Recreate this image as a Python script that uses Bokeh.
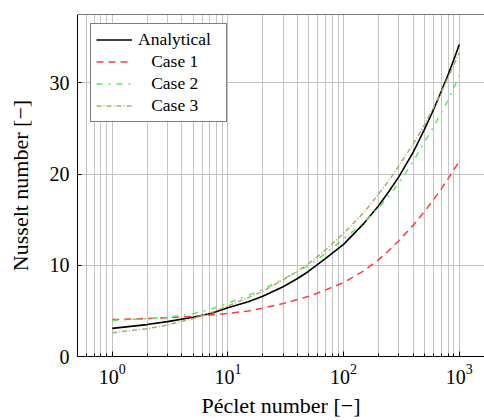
from bokeh.plotting import figure
from bokeh.models import Range1d, Span, Legend, LegendItem, LogTicker, FixedTicker
from bokeh.embed import file_html
from bokeh.resources import INLINE

# ---- data ----
peclet = [1, 2, 3, 5, 7, 10, 15, 20, 30, 40, 50, 70, 100, 150, 200, 250, 300, 400, 500, 600, 700, 800, 900, 1000]
nu_analytical = [3.08, 3.50, 3.82, 4.30, 4.70, 5.35, 6.00, 6.60, 7.65, 8.55, 9.35, 10.75, 12.3, 14.6, 16.5, 18.2, 19.7, 22.4, 24.9, 27.1, 29.1, 30.9, 32.6, 34.2]
nu_case1 = [4.05, 4.15, 4.25, 4.40, 4.55, 4.72, 5.00, 5.30, 5.80, 6.25, 6.60, 7.30, 8.10, 9.40, 10.6, 11.7, 12.7, 14.4, 15.9, 17.2, 18.4, 19.5, 20.5, 21.4]
nu_case2 = [3.95, 4.15, 4.30, 4.70, 5.15, 5.85, 6.70, 7.35, 8.50, 9.30, 10.0, 11.3, 12.9, 14.7, 16.3, 17.7, 19.0, 21.4, 23.5, 25.2, 26.8, 28.1, 29.5, 30.8]
nu_case3 = [2.60, 3.05, 3.45, 4.15, 4.75, 5.55, 6.45, 7.15, 8.40, 9.35, 10.2, 11.7, 13.5, 15.8, 17.8, 19.4, 20.9, 23.3, 25.4, 27.3, 29.0, 30.6, 32.0, 33.3]
y_ticks = [0, 10, 20, 30]
series_labels = ["Analytical", "\u2002\u2005Case 1", "\u2002\u2005Case 2", "\u2002\u2005Case 3"]

FONT = "Liberation Serif"

p = figure(width=484, height=420, x_axis_type="log",
           x_range=Range1d(10 ** -0.3, 10 ** 3.218), y_range=Range1d(0, 37.5),
           output_backend="svg", toolbar_location=None,
           min_border_left=77, min_border_right=0, min_border_top=14, min_border_bottom=61)

p.background_fill_color = "white"
p.border_fill_color = "white"
p.outline_line_color = None
p.add_layout(Span(location=37.5, dimension="width", line_color="black", line_width=1))

# x axis
p.xaxis.ticker = LogTicker(mantissas=[1], num_minor_ticks=10)
p.xaxis.axis_label = "Péclet number [\u2212]"
p.xaxis.major_tick_in = 5
p.xaxis.major_tick_out = 0
p.xaxis.minor_tick_in = 3
p.xaxis.minor_tick_out = 0
p.xaxis.major_label_standoff = 7
p.xaxis.axis_label_standoff = 6

# y axis
p.yaxis.ticker = FixedTicker(ticks=y_ticks)
p.yaxis.axis_label = "Nusselt number [\u2212]"
p.yaxis.major_tick_in = 4
p.yaxis.major_tick_out = 0
p.yaxis.minor_tick_in = 0
p.yaxis.minor_tick_out = 0
p.yaxis.major_label_standoff = 8
p.yaxis.axis_label_standoff = 14

for ax in (p.xaxis, p.yaxis):
    ax.axis_line_color = "black"
    ax.axis_line_width = 1
    ax.major_tick_line_color = "black"
    ax.minor_tick_line_color = "black"
    ax.major_label_text_font = FONT
    ax.major_label_text_font_size = "20px"
    ax.major_label_text_color = "black"
    ax.axis_label_text_font = FONT
    ax.axis_label_text_font_size = "22px"
    ax.axis_label_text_font_style = "normal"
    ax.axis_label_text_color = "black"

# grids
p.xgrid.grid_line_color = "#c4c4c4"
p.xgrid.grid_line_width = 1
p.xgrid.minor_grid_line_color = "#c4c4c4"
p.xgrid.minor_grid_line_width = 1
p.ygrid.grid_line_color = "#c4c4c4"
p.ygrid.grid_line_width = 1

r0 = p.line(peclet, nu_analytical, line_color="black", line_width=1.6)
r1 = p.line(peclet, nu_case1, line_color="#ff3c3c", line_width=1.5, line_dash="7 5")
r2 = p.line(peclet, nu_case2, line_color="#5aec5a", line_width=1.5, line_dash="6 6 2 6")
r3 = p.line(peclet, nu_case3, line_color="#b4a76c", line_width=1.5, line_dash="5 2 1 2")

legend = Legend(items=[LegendItem(label=series_labels[0], renderers=[r0]),
                       LegendItem(label=series_labels[1], renderers=[r1]),
                       LegendItem(label=series_labels[2], renderers=[r2]),
                       LegendItem(label=series_labels[3], renderers=[r3])],
                location=(13, 234))
legend.border_line_color = "black"
legend.border_line_width = 1
legend.background_fill_color = "white"
legend.background_fill_alpha = 1
legend.label_text_font = FONT
legend.label_text_font_size = "17.5px"
legend.label_text_color = "black"
legend.glyph_width = 36
legend.glyph_height = 21
legend.label_height = 21
legend.label_width = 83
legend.label_standoff = 6
legend.spacing = 1
legend.padding = 5
legend.margin = 0
p.add_layout(legend, "center")

open("out.html", "w").write(file_html(p, INLINE))
